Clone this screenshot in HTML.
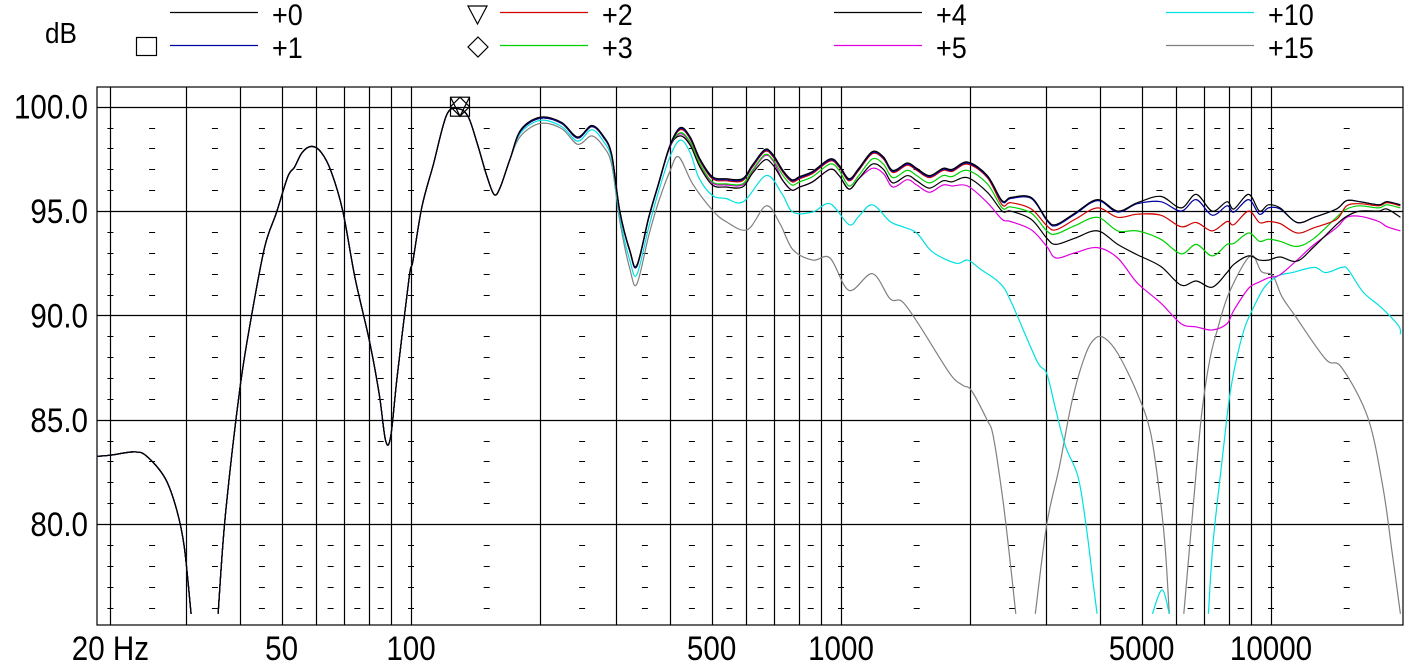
<!DOCTYPE html>
<html><head><meta charset="utf-8">
<style>
html,body{margin:0;padding:0;background:#fff;}
svg{display:block;font-family:"Liberation Sans",Arial,sans-serif;}
</style></head>
<body>
<svg id="chart" width="1417" height="667" viewBox="0 0 1417 667" xmlns="http://www.w3.org/2000/svg">
<rect x="0" y="0" width="1417" height="667" fill="#fff"/>
<g id="grid"></g>
<g id="ylabels"></g>
<g id="xlabels"></g>
<g id="curves"></g>
<g id="legend"></g>
<g id="markers"></g>
</svg>
<script>
// ---- data ----
const yTicks = [100, 95, 90, 85, 80];
const yTickLabels = ["100.0", "95.0", "90.0", "85.0", "80.0"];
const xTickFreqs = [20, 50, 100, 500, 1000, 5000, 10000];
const xTickLabels = ["20 Hz", "50", "100", "500", "1000", "5000", "10000"];
const seriesNames = ["+0", "+1", "+2", "+3", "+4", "+5", "+10", "+15"];

const lowF  = [18.6,20,22.7,24.3,26.8,28.5,29.7,30.8,NaN,35.6,37,40,42.6,45.7,48.6,51.7,53.6,55.8,58.8,61.9,65.2,69.4,74.1,80,84.4,87.3,89.7,92.8,99,101,106,112.6,121,129,136,143,150,156,161,170];
const lowDb = [83.25,83.3,83.46,83.25,82.2,80.7,78.9,75.7,NaN,75.7,80.4,86.5,90.0,93.3,94.9,96.65,97.1,97.8,98.1,97.8,96.9,95.0,91.8,88.8,86.2,84.0,84.2,87.0,91.8,92.6,95.2,97.2,99.6,99.9,99.5,98.15,96.7,95.8,96.1,97.5];

const hiF = [180,200,224,244,263,280,293,306,323,335,357,376,400,423,446,470,502,540,590,622,665,695,733,769,801,859,943,990,1044,1100,1183,1255,1320,1425,1500,1606,1727,1814,1970,2190,2370,2480,2770,3010,3160,3500,3950,4400,4890,5540,6180,6700,7300,7900,8200,8870,9400,9860,10500,11500,12600,14200,15000,16100,17800,18600,20000];

const s0 = [98.9,99.5,99.25,98.55,99.1,98.6,97.7,95.0,93.1,92.4,
94.7,96.3,98.15,99.0,98.55,97.5,96.65,96.55,96.55,97.2,
97.95,97.7,96.95,96.5,96.65,96.9,97.5,97.2,96.55,97.05,
97.85,97.6,96.95,97.3,97.05,96.7,97.05,97.0,97.35,96.7,
95.5,95.65,95.65,94.6,94.35,94.9,95.55,95.0,95.4,95.7,
95.15,95.8,95.0,95.45,95.1,95.8,95.0,95.3,95.15,94.45,
94.7,95.1,95.5,95.45,95.3,95.45,95.3];

const s1 = [98.85,99.45,99.2,98.5,99.05,98.55,97.65,94.95,93.05,92.35,
94.65,96.25,98.1,98.95,98.5,97.45,96.6,96.5,96.5,97.15,
97.9,97.65,96.9,96.45,96.6,96.85,97.45,97.15,96.5,97.0,
97.8,97.55,96.9,97.25,97.0,96.65,97.0,96.95,97.3,96.65,
95.45,95.6,95.6,94.55,94.3,94.85,95.5,94.95,95.35,95.45,
95.0,95.55,94.8,95.25,94.95,95.55,94.85,95.15,95.1,94.45,
94.7,95.1,95.5,95.45,95.3,95.45,95.3];

const s2 = [98.85,99.45,99.2,98.5,99.05,98.55,97.65,94.95,93.05,92.35,
94.65,96.25,98.1,98.9,98.45,97.4,96.55,96.45,96.45,97.1,
97.85,97.6,96.85,96.4,96.55,96.8,97.4,97.1,96.45,96.95,
97.75,97.5,96.85,97.2,96.95,96.6,96.95,96.9,97.25,96.6,
95.3,95.4,95.1,94.3,94.1,94.6,95.15,94.7,94.85,94.8,
94.25,94.45,94.05,94.5,94.35,95.0,94.45,94.5,94.4,93.95,
94.2,94.6,95.25,95.35,95.25,95.4,95.25];

const s3 = [98.85,99.45,99.2,98.5,99.05,98.55,97.65,94.95,93.05,92.35,
94.65,96.25,98.1,98.75,98.3,97.25,96.4,96.3,96.3,96.95,
97.7,97.45,96.7,96.25,96.4,96.65,97.25,96.95,96.2,96.7,
97.5,97.25,96.6,96.95,96.7,96.35,96.7,96.65,96.95,96.3,
95.15,95.2,94.9,94.05,93.9,94.3,94.7,94.05,94.05,93.65,
92.95,93.4,92.85,93.4,93.45,93.95,93.55,93.65,93.55,93.3,
93.7,94.7,95.1,95.25,95.15,95.3,95.15];

const s4 = [98.85,99.45,99.2,98.5,99.05,98.55,97.65,94.95,93.05,92.35,
94.65,96.25,98.1,98.6,98.15,97.1,96.25,96.15,96.15,96.8,
97.45,97.2,96.45,96.0,96.15,96.4,97.0,96.7,96.05,96.55,
97.25,97.0,96.35,96.7,96.45,96.1,96.45,96.4,96.6,95.9,
95.0,95.0,94.6,93.7,93.4,93.7,94.05,93.4,92.9,92.35,
91.45,91.65,91.35,92.05,92.45,92.85,92.65,92.65,92.8,92.6,
93.3,94.35,94.75,95.0,95.0,95.1,94.7];

const s5 = [98.85,99.45,99.2,98.5,99.05,98.55,97.65,94.95,93.05,92.35,
94.65,96.25,98.05,98.7,98.25,97.2,96.35,96.25,96.25,96.9,
97.65,97.4,96.45,96.0,96.15,96.4,97.0,96.7,96.05,96.55,
97.05,96.8,96.15,96.5,96.25,95.9,96.25,96.2,96.2,95.4,
94.6,94.5,94.1,93.3,92.75,93.0,93.25,92.75,91.55,90.6,
89.6,89.45,89.3,89.6,90.25,91.3,91.6,91.8,91.95,92.65,
93.4,94.2,94.7,94.75,94.5,94.25,94.05];

const cyanF  = [180,200,224,244,263,280,293,306,323,335,357,376,400,423,446,467,502,540,593,670,728,773,859,943,1044,1100,1183,1300,1390,1500,1630,1850,1970,2115,2340,2480,2850,3010,3160,3330,3560,3720,3860,3940,NaN,5300,5580,5800,NaN,7150,7340,7730,7990,8300,8700,9270,9700,10400,11200,12600,13400,14600,15100,16400,18000,19800,20000];
const cyanDb = [98.75,99.35,99.05,98.35,98.9,98.35,97.45,94.7,92.6,91.95,94.2,95.9,97.6,98.4,97.8,96.6,95.75,95.6,95.45,96.7,95.85,94.95,94.95,95.35,94.35,94.75,95.3,94.5,94.25,93.95,93.05,92.5,92.65,92.2,91.55,90.7,87.85,87.2,85.45,83.7,82.25,79.85,77.15,75.7,NaN,75.7,76.85,75.7,NaN,75.7,79.2,83.4,85.95,87.85,89.45,90.7,91.4,91.9,92.05,92.3,92.05,92.3,92.2,91.1,90.4,89.5,89.1];

const grayF  = [180,200,224,244,263,280,293,306,323,335,357,376,400,419,452,502,540,605,670,721,773,859,943,1044,1183,1300,1390,1530,1793,1920,2010,2185,2260,2380,2480,2550,NaN,2830,3010,3220,3450,3700,3900,4110,4410,4890,5250,5530,5680,5800,NaN,6270,6610,6900,7200,7500,8000,8950,9500,10100,10600,11400,13400,14600,16800,18200,19100,20000];
const grayDb = [98.6,99.2,98.95,98.2,98.6,98.1,97.2,94.5,92.2,91.5,93.8,95.4,96.9,97.6,96.3,95.05,94.5,94.1,95.25,94.4,93.15,92.65,92.75,91.2,92.0,90.8,90.65,89.45,87.2,86.65,86.4,85.0,84.2,81.15,78.0,75.7,NaN,75.7,80.0,82.75,85.95,88.1,88.9,88.9,88.15,86.25,84.35,81.15,78.75,75.7,NaN,75.7,81.15,85.3,87.85,89.3,91.1,92.85,92.1,91.9,90.9,89.95,87.9,87.5,85.1,81.8,78.75,75.7];

// ---- axes ----
const PL = 97, PR = 1403, PT = 87, PB = 625;
function xOf(f){ return 411 + 430*Math.log10(f/100); }
function yOf(db){ return 106.7 + (100-db)*20.87; }
const NS = "http://www.w3.org/2000/svg";
function mk(tag, attrs, parent){
  const e = document.createElementNS(NS, tag);
  for (const k in attrs) e.setAttribute(k, attrs[k]);
  parent.appendChild(e); return e;
}

const grid = document.getElementById('grid');
const frame = mk('rect', {x:PL, y:PT, width:PR-PL, height:PB-PT, fill:'none', stroke:'#000', 'stroke-width':1.2}, grid);


const vFreqs = [];
for (const dec of [10,100,1000,10000]) for (let m=1;m<=9;m++){ const f=dec*m; if (f>=20 && f<=10000) vFreqs.push(f); }
for (const f of vFreqs){
  const x = Math.round(xOf(f))+0.5;
  const l = mk('line', {x1:x, x2:x, y1:PT, y2:PB, stroke:'#000', 'stroke-width':1.2}, grid);
  
  
}
for (const t of yTicks){
  const y = Math.round(yOf(t))+0.5;
  const l = mk('line', {x1:PL, x2:PR, y1:y, y2:y, stroke:'#000', 'stroke-width':1.2}, grid);
  
  
}
const dashF = [];
for (const dec of [10,100,1000,10000]){
  for (const m of [1.5,2.5,3.5,4.5,5.5,6.5,7.5,8.5]) dashF.push(dec*m);
  dashF.push(dec*10);
}
dashF.push(20);
let dpath = "";
for (const f of dashF){
  if (f < 20 || f > 16000) continue;
  const x = xOf(f);
  for (let d=76; d<=99; d++){
    if (d%5===0) continue;
    const y = Math.round(yOf(d))+0.5;
    dpath += "M"+(x-3).toFixed(1)+" "+y+"h6";
  }
}
const dp = mk('path', {d:dpath, stroke:'#000', 'stroke-width':1, fill:'none'}, grid);



const yl = document.getElementById('ylabels');
yTicks.forEach((t,i)=>{
  const tx = mk('text', {x:0, y:0, 'text-anchor':'end', 'font-size':34,
    transform:'translate(88,'+(yOf(t)+12).toFixed(1)+') scale(0.87,1)'}, yl);
  tx.textContent = yTickLabels[i];
  
  
});
const dbT = mk('text', {x:0, y:0, 'text-anchor':'middle', 'font-size':29, transform:'translate(61,43) scale(0.9,1)'}, yl);
dbT.textContent = "dB";



const xl = document.getElementById('xlabels');
xTickFreqs.forEach((f,i)=>{
  const tx = mk('text', {x:0, y:0, 'text-anchor':'middle', 'font-size':34,
    transform:'translate('+xOf(f).toFixed(1)+',660) scale(0.87,1)'}, xl);
  tx.textContent = xTickLabels[i];
  
  
});

// smooth curves (Catmull-Rom -> cubic bezier), NaN breaks segments
function buildPath(F, D){
  const segs = []; let cur = [];
  for (let i=0;i<F.length;i++){
    if (isNaN(F[i]) || isNaN(D[i])){ if (cur.length) segs.push(cur); cur=[]; continue; }
    cur.push([xOf(F[i]), yOf(D[i])]);
  }
  if (cur.length) segs.push(cur);
  let d = "";
  for (const p of segs){
    d += "M"+p[0][0].toFixed(1)+" "+p[0][1].toFixed(1);
    for (let i=0;i<p.length-1;i++){
      const p0 = p[Math.max(0,i-1)], p1 = p[i], p2 = p[i+1], p3 = p[Math.min(p.length-1,i+2)];
      const c1x = p1[0]+(p2[0]-p0[0])/6, c1y = p1[1]+(p2[1]-p0[1])/6;
      const c2x = p2[0]-(p3[0]-p1[0])/6, c2y = p2[1]-(p3[1]-p1[1])/6;
      d += "C"+c1x.toFixed(1)+" "+c1y.toFixed(1)+" "+c2x.toFixed(1)+" "+c2y.toFixed(1)+" "+p2[0].toFixed(1)+" "+p2[1].toFixed(1);
    }
  }
  return d;
}
const curves = document.getElementById('curves');
const colors = ["#000000","#0000a0","#d00000","#00d000","#000000","#e000e0","#00e0e0","#808080"];
const seriesHi = [s0,s1,s2,s3,s4,s5];
const order = [7,6,5,4,3,2,1,0];
for (const k of order){
  let F, D;
  if (k < 6){ F = lowF.concat(hiF); D = lowDb.concat(seriesHi[k]); }
  else if (k === 6){ F = lowF.concat(cyanF); D = lowDb.concat(cyanDb); }
  else { F = lowF.concat(grayF); D = lowDb.concat(grayDb); }
  const p = mk('path', {d:buildPath(F,D), fill:'none', stroke:colors[k], 'stroke-width':1.2, 'stroke-linejoin':'round'}, curves);
  
  
}

const lg = document.getElementById('legend');
const legPos = [[170,12],[170,45],[500,12],[500,45],[834,12],[834,45],[1166,12],[1166,45]];
seriesNames.forEach((n,i)=>{
  const [x,y] = legPos[i];
  const g = mk('g', {}, lg);
  
  
  mk('line', {x1:x, x2:x+88, y1:y+0.5, y2:y+0.5, stroke:colors[i], 'stroke-width':1.2}, g);
  const t = mk('text', {x:0, y:0, 'font-size':30, transform:'translate('+(x+102)+','+(y+13)+') scale(0.9,1)'}, g);
  t.textContent = n;
});
const lm = mk('g', {fill:'none', stroke:'#000', 'stroke-width':1.2}, lg);


mk('rect', {x:136.5, y:37.5, width:20, height:18}, lm);
mk('path', {d:'M468 6 L487 6 L477.5 24 Z'}, lm);
mk('path', {d:'M478 37 L488 47 L478 57 L468 47 Z'}, lm);

const mkr = document.getElementById('markers');
const cx = xOf(130), cy = yOf(100);
const mg = mk('g', {fill:'none', stroke:'#000', 'stroke-width':1.2}, mkr);


mk('rect', {x:cx-9.5, y:cy-9.5, width:19, height:19}, mg);
mk('path', {d:'M'+(cx-9.5)+' '+(cy-9.5)+' L'+(cx)+' '+(cy+9.5)+' L'+(cx+9.5)+' '+(cy-9.5)}, mg);
mk('path', {d:'M'+cx+' '+(cy-9.5)+' L'+(cx+9.5)+' '+cy+' L'+cx+' '+(cy+9.5)+' L'+(cx-9.5)+' '+cy+' Z'}, mg);
</script>
</body></html>
